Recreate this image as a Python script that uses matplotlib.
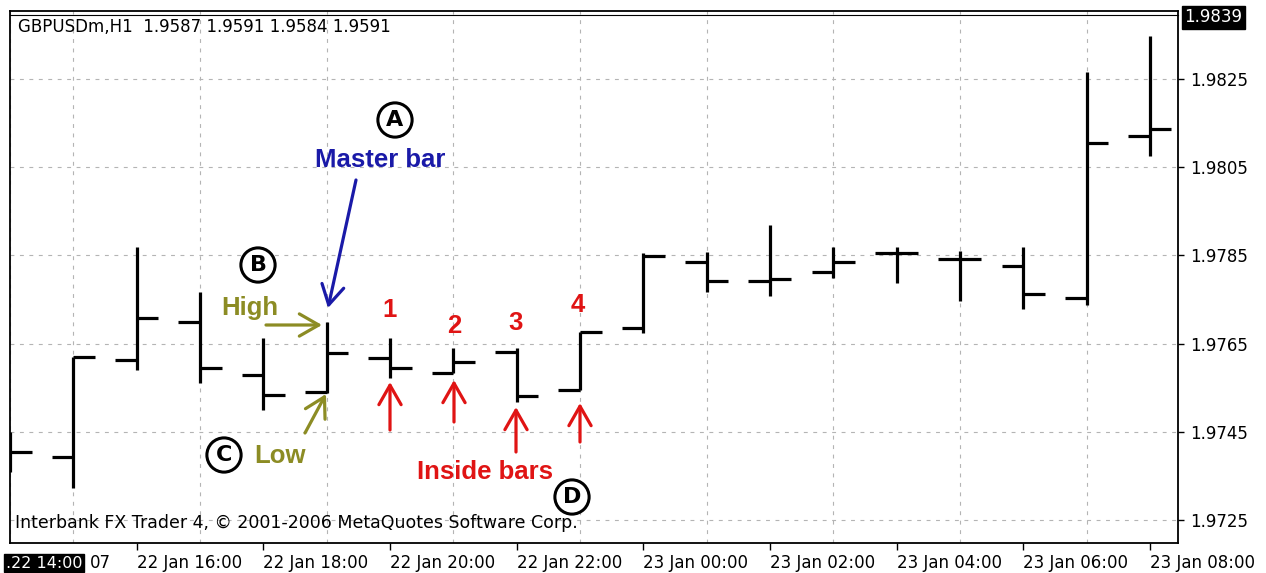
import matplotlib
matplotlib.use('Agg')
import matplotlib.pyplot as plt

# ---- data (hourly OHLC, GBPUSD H1) ----
hours = ['22 Jan 14:00', '22 Jan 15:00', '22 Jan 16:00', '22 Jan 17:00', '22 Jan 18:00',
         '22 Jan 19:00', '22 Jan 20:00', '22 Jan 21:00', '22 Jan 22:00', '22 Jan 23:00',
         '23 Jan 00:00', '23 Jan 01:00', '23 Jan 02:00', '23 Jan 03:00', '23 Jan 04:00',
         '23 Jan 05:00', '23 Jan 06:00', '23 Jan 07:00', '23 Jan 08:00']
opens = [1.97410, 1.97393, 1.97613, 1.97699, 1.97579, 1.97540, 1.97618, 1.97584, 1.97631, 1.97545,
         1.97686, 1.97835, 1.97792, 1.97813, 1.97856, 1.97842, 1.97826, 1.97754, 1.98121]
highs = [1.97450, 1.97620, 1.97869, 1.97767, 1.97663, 1.97699, 1.97663, 1.97640, 1.97640, 1.97677,
         1.97856, 1.97858, 1.97919, 1.97869, 1.97869, 1.97860, 1.97869, 1.98266, 1.98348]
lows = [1.97360, 1.97323, 1.97590, 1.97561, 1.97500, 1.97538, 1.97572, 1.97584, 1.97518, 1.97545,
        1.97674, 1.97767, 1.97758, 1.97799, 1.97788, 1.97747, 1.97729, 1.97738, 1.98076]
closes = [1.97404, 1.97620, 1.97708, 1.97595, 1.97534, 1.97629, 1.97595, 1.97609, 1.97531, 1.97677,
          1.97849, 1.97792, 1.97797, 1.97835, 1.97856, 1.97842, 1.97763, 1.98105, 1.98137]
price_ticks = [1.9725, 1.9745, 1.9765, 1.9785, 1.9805, 1.9825]
current_price = 1.9839
title_text = 'GBPUSDm,H1  1.9587 1.9591 1.9584 1.9591'
footer_text = 'Interbank FX Trader 4, \u00a9 2001-2006 MetaQuotes Software Corp.'

W, H = 1266, 573
fig = plt.figure(figsize=(W / 100, H / 100), dpi=100)
fig.patch.set_facecolor('white')

L, R, T, B = 10, 1178, 11, 543
ax = fig.add_axes([L / W, 1 - B / H, (R - L) / W, (B - T) / H])
ax.set_facecolor('white')

n = len(hours)
xs = list(range(n))
tick_w = 0.34
bar_lw = 2.3
ax.vlines(xs, lows, highs, color='black', lw=bar_lw, capstyle='butt', zorder=3)
ax.hlines(opens, [x - tick_w for x in xs], xs, color='black', lw=bar_lw, capstyle='butt', zorder=3)
ax.hlines(closes, xs, [x + tick_w for x in xs], color='black', lw=bar_lw, capstyle='butt', zorder=3)

ax.set_xlim(0, (R - L) / 63.33)
ax.set_ylim(1.97198, 1.98404)

# grid
ax.set_yticks(price_ticks)
ax.set_yticklabels(['%.4f' % p for p in price_ticks])
ax.set_xticks(xs[2::2])
ax.set_xticklabels([hours[i] for i in xs[2::2]], ha='left')
ax.set_xticks(xs, minor=True)
ax.grid(axis='y', which='major', color='#b4b4b4', lw=0.8, linestyle=(0, (3.5, 5)), zorder=0)
ax.grid(axis='x', which='minor', color='#b4b4b4', lw=0.8, linestyle=(0, (3.5, 5)), zorder=0)

ax.yaxis.tick_right()
ax.tick_params(axis='y', which='major', direction='out', length=4, width=1, pad=5,
               labelsize=12, labelcolor='black')
ax.tick_params(axis='x', which='major', direction='out', length=5, width=1, pad=3,
               labelsize=12, labelcolor='black')
ax.tick_params(axis='x', which='minor', length=0)
for lbl in ax.get_xticklabels():
    lbl.set_horizontalalignment('left')
for s in ax.spines.values():
    s.set_color('black')
    s.set_linewidth(1.3)
# second thin line under the top border
ax.plot([0, 1], [1 - 4 / (B - T)] * 2, transform=ax.transAxes, color='black', lw=0.8, clip_on=False)


def P(x, y):
    return (x, H - y)


# texts in the chart window
fig.text(18 / W, 1 - 27 / H, title_text, ha='left', va='center', fontsize=12, color='black')
fig.text(15 / W, 1 - 523 / H, footer_text, ha='left', va='center', fontsize=12.5, color='black')

fig.text(6 / W, 1 - 563 / H, '.22 14:00', ha='left', va='center', fontsize=11.5, color='white',
         bbox=dict(boxstyle='square,pad=0.1', fc='black', ec='black'))
fig.text(90 / W, 1 - 563 / H, '07', ha='left', va='center', fontsize=12, color='black')

ax.text(1.0 + 6 / (R - L), current_price, '%.4f' % current_price, transform=ax.get_yaxis_transform(),
        ha='left', va='center', fontsize=12, color='white', clip_on=False,
        bbox=dict(boxstyle='square,pad=0.15', fc='black', ec='black'))

# annotations
blue = '#1a1aa8'
olive = '#8c8c24'
red = '#e01414'
narrow = ['Liberation Sans', 'DejaVu Sans']


def circ(x, y, s):
    fig.text(x / W, 1 - y / H, s, ha='center', va='center', fontsize=16, fontweight='bold',
             color='black', zorder=10,
             bbox=dict(boxstyle='circle,pad=0.32', fc='white', ec='black', lw=2.2))


def label(x, y, s, c):
    fig.text(x / W, 1 - y / H, s, ha='center', va='center', fontsize=18.5, fontweight='bold',
             color=c, family=narrow, zorder=10)


def arrow(x0, y0, x1, y1, c):
    ax.annotate('', xy=P(x1, y1), xycoords='figure pixels', xytext=P(x0, y0),
                textcoords='figure pixels', zorder=10,
                arrowprops=dict(arrowstyle='->,head_length=0.7,head_width=0.4', lw=2.3, color=c,
                                shrinkA=0, shrinkB=0, mutation_scale=20))


circ(395, 120, 'A')
label(380, 160, 'Master bar', blue)
arrow(356, 180, 328, 308, blue)

circ(258, 265, 'B')
label(250, 308, 'High', olive)
arrow(266, 325, 322, 325, olive)

circ(224, 455, 'C')
label(280, 456, 'Low', olive)
arrow(305, 433, 326, 394, olive)

for (nx, ny, num) in [(390, 310, '1'), (454, 326, '2'), (516, 323, '3'), (578, 305, '4')]:
    label(nx, ny, num, red)
for (x0, y0, y1) in [(390, 430, 382), (454, 422, 380), (516, 452, 407), (580, 442, 403)]:
    arrow(x0, y0, x0, y1, red)
label(485, 472, 'Inside bars', red)
circ(572, 497, 'D')

fig.savefig('out.png', dpi=100, facecolor='white')
